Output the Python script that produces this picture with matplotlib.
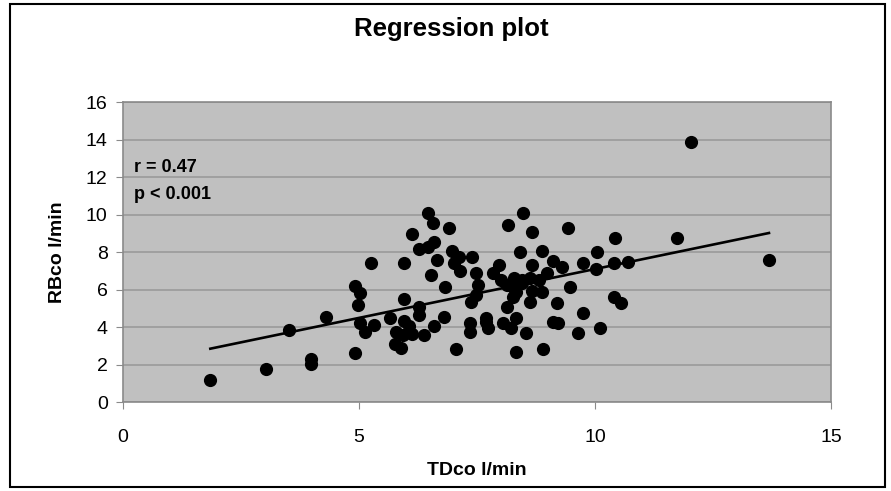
import matplotlib.pyplot as plt
from matplotlib.patches import Rectangle

# data
td = [1.85, 3.02, 3.99, 3.99, 3.51, 4.29,
      4.92, 5.01, 4.97, 5.02, 5.13, 5.32, 4.92, 5.25, 5.66, 5.78, 5.93, 5.76, 5.89, 5.96,
      6.06, 6.13, 6.38, 6.59, 5.96, 6.26, 6.27, 5.96, 6.13, 6.27, 6.47, 6.59, 6.45, 6.57,
      6.64, 6.53, 6.83, 6.80, 6.91, 6.96, 7.12, 7.40, 7.01, 7.14, 7.47, 7.51, 7.47, 7.37,
      7.35, 7.35, 7.05, 7.68, 7.72, 7.83, 7.97, 8.00, 8.14, 8.28, 8.46, 8.63, 8.32, 8.25,
      8.25, 8.14, 8.04, 8.21, 8.32, 8.53, 8.32, 8.16, 8.48, 8.41, 8.67, 8.67, 8.63, 8.67,
      8.88, 8.87, 8.99, 8.81, 8.89, 9.10, 9.30, 9.46, 9.20, 9.11, 9.22, 9.43, 9.64, 9.74,
      9.74, 10.02, 10.04, 10.10, 10.40, 10.42, 10.40, 10.54, 10.70, 11.73, 12.02, 13.68,
      8.46, 7.68]
rb = [1.20, 1.75, 2.30, 2.05, 3.85, 4.55,
      6.20, 5.80, 5.20, 4.20, 3.75, 4.10, 2.60, 7.40, 4.50, 3.75, 3.60, 3.10, 2.90, 4.35,
      4.05, 3.65, 3.60, 4.05, 5.50, 5.05, 4.65, 7.40, 8.95, 8.15, 8.30, 8.55, 10.10, 9.55,
      7.60, 6.80, 6.15, 4.55, 9.30, 8.05, 7.75, 7.75, 7.40, 7.00, 6.90, 6.25, 5.70, 5.35,
      4.20, 3.75, 2.85, 4.50, 3.95, 6.88, 7.30, 6.50, 6.25, 6.60, 6.50, 6.60, 5.90, 6.15,
      5.60, 5.10, 4.20, 3.95, 4.50, 3.68, 2.70, 9.45, 10.10, 8.00, 9.10, 7.30, 5.35, 5.95,
      5.90, 8.05, 6.88, 6.50, 2.85, 7.55, 7.20, 6.15, 5.28, 4.30, 4.20, 9.30, 3.68, 4.75,
      7.40, 7.10, 8.00, 3.95, 7.40, 8.75, 5.60, 5.28, 7.50, 8.75, 13.85, 7.60,
      6.35, 4.30]

# regression line ends
fit_x = [1.85, 13.68]
fit_y = [2.85, 9.02]

xticks = [0, 5, 10, 15]
yticks = [0, 2, 4, 6, 8, 10, 12, 14, 16]

plt.rcParams['font.family'] = ['Liberation Sans', 'DejaVu Sans']

fig = plt.figure(figsize=(8.91, 4.91), dpi=100)
ax = fig.add_axes([0.138, 0.181, 0.795, 0.611])

ax.set_facecolor('#c0c0c0')
ax.set_xlim(0, 15)
ax.set_ylim(0, 16)
ax.set_xticks(xticks)
ax.set_yticks(yticks)
ax.yaxis.grid(True, color='#9a9a9a', linewidth=1.2)
ax.set_axisbelow(True)
for s in ax.spines.values():
    s.set_color('#8a8a8a')
    s.set_linewidth(1.2)
ax.tick_params(colors='#8a8a8a', labelcolor='black', labelsize=14, length=5)
ax.tick_params(axis='x', pad=14)
ax.tick_params(axis='y', pad=6)

ax.scatter(td, rb, s=72, color='black', zorder=3)
ax.plot(fit_x, fit_y, color='black', linewidth=1.9, zorder=4)

ax.text(0.23, 12.5, 'r = 0.47', fontsize=13, fontweight='bold', va='center')
ax.text(0.23, 11.1, 'p < 0.001', fontsize=13, fontweight='bold', va='center')

ax.set_xlabel('TDco l/min', fontsize=14, fontweight='bold', labelpad=12)
ax.set_ylabel('RBco l/min', fontsize=14, fontweight='bold', labelpad=14)
fig.text(0.507, 0.94, 'Regression plot', ha='center', va='center',
         fontsize=18.5, fontweight='bold')

# frame round the whole chart
fig.patches.append(Rectangle((0.011, 0.008), 0.982, 0.984, transform=fig.transFigure,
                             fill=False, edgecolor='black', linewidth=1.5))

fig.savefig('out.png', dpi=100)
